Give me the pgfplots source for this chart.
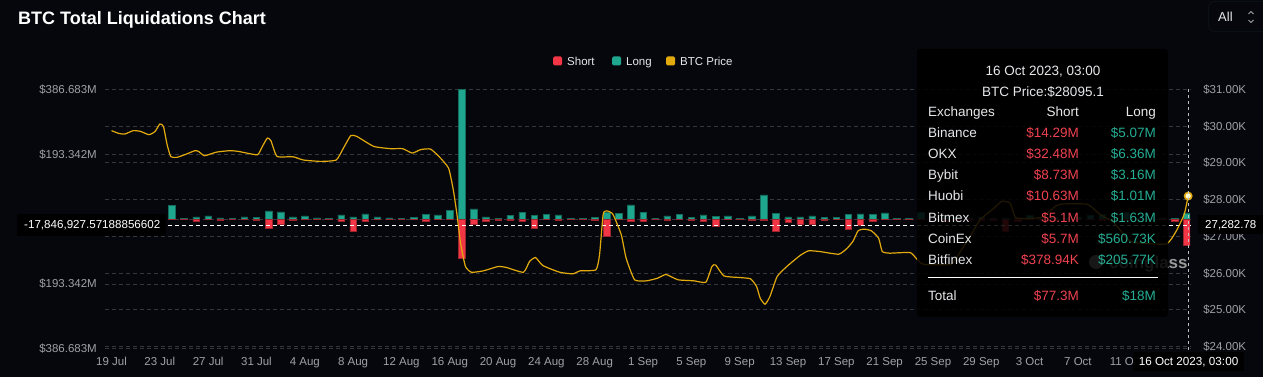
\documentclass[border=0pt]{standalone}
\usepackage{pgfplots}
\pgfplotsset{compat=1.18}
\usepackage{pgfplotstable}
\usepackage{fontspec}
\setmainfont{Liberation Sans}
\definecolor{bg}{HTML}{05070C}
\definecolor{gridc}{HTML}{34373D}
\definecolor{tickc}{HTML}{9EA1A6}
\definecolor{longc}{HTML}{1FA68F}
\definecolor{shortc}{HTML}{F23645}
\definecolor{pricec}{HTML}{E3AA0E}
\definecolor{ttred}{HTML}{F0424F}
\definecolor{ttgreen}{HTML}{25AE93}
\definecolor{txt}{HTML}{E6E7E9}

\pgfplotstableread{
d long short
0 3 -2
1 2 -1
2 4 -2
3 3 -1
4 5 -3
5 41 -2
6 1 -2
7 6 -8
8 9 -1
9 3 -3
10 1 -1
11 6 -1
12 4 -3
13 24 -29
14 21 -16
15 6 -5
16 9 -2
17 3 -1
18 2 -2
19 12 -6
20 6 -38
21 15 -6
22 6 -2
23 3 -1
24 1 -1
25 5 -1
26 14 -8
27 12 -0.5
28 26 -1
29 386.683 -118
30 30 -15
31 6 -6
32 2 -3
33 10 -5
34 20 -6
35 10 -28
36 14 -2
37 12 -5
38 1 -1
39 1 -1
40 5 -4
41 20 -51
42 17 -2
43 42 -6
44 20 -8
45 2 -2
46 9 -3
47 14 -1
48 5 -3
49 12 -8
50 7 -23
51 9 -2
52 1 -1
53 9 -3
54 72 -5
55 16 -38
56 6 -9
57 6 -15
58 9 -15
59 5 -3
60 5 -1
61 13 -32
62 15 -18
63 14 -6
64 18 -1
65 1 -2
66 1 -1
67 20 -2
68 3 -2
69 4 -6
70 5 -3
71 3 -5
72 4 -4
73 2 -3
74 3 -36
75 2 -8
76 12 -2
77 3 -2
78 5 -3
79 2 -1
80 4 -2
81 12 -2
82 13 -3
83 3 -2
84 20 -3
85 3 -2
86 2 -1
87 3 -2
88 1 -8
89 18 -77.3
}\liqtable

\pgfplotstableread{
d p
0.0 29875
0.6 29800
1.1 29782
1.8 29875
2.4 29855
3.1 29765
3.6 29850
4.0 30055
4.3 29990
4.6 29500
4.9 29174
5.4 29147
6.2 29237
6.9 29330
7.2 29310
7.7 29193
8.7 29291
9.8 29330
10.5 29310
11.2 29264
12.1 29220
12.5 29450
12.9 29673
13.2 29600
13.7 29174
15.0 29166
15.9 29075
17.3 29038
18.6 29075
19.2 29400
19.8 29738
20.3 29719
21.7 29447
23.1 29384
24.1 29384
24.9 29264
25.6 29360
26.4 29374
27.1 29174
27.9 28855
28.3 28250
28.6 27585
28.9 26800
29.3 26177
29.8 26021
30.8 26060
32.0 26177
32.7 26150
34.1 26021
34.6 26313
35.1 26422
35.7 26204
37.1 26021
38.2 25978
38.8 26060
40.1 26087
40.4 26500
40.7 27600
41.0 27690
41.5 27602
42.2 27040
42.6 26403
43.3 25815
44.3 25788
45.2 25859
45.9 25960
46.9 25815
48.2 25788
49.2 25750
49.7 26177
50.0 26222
50.7 25920
52.0 25877
52.9 25842
53.4 25632
53.7 25313
54.1 25150
54.5 25359
55.1 25904
55.9 26177
57.0 26477
57.7 26604
58.6 26586
60.2 26512
60.9 26676
61.4 26876
61.8 27149
62.3 27194
62.9 27149
63.5 26949
63.8 26586
64.4 26540
66.1 26558
66.6 26403
67.2 26240
69.5 26240
70.3 26600
71.1 27000
71.9 27450
73.0 27750
73.7 27950
74.4 27900
74.8 27520
75.5 27480
77.0 27520
78.2 27830
78.8 27880
80.8 27870
81.8 27600
82.9 27390
84.1 26930
84.6 26830
87.3 26790
88.1 27120
88.8 27600
89.125 28095.1
}\pricetable

\pgfplotsset{
  baseax/.style={
    at={(105pt,-348.7pt)}, anchor=south west,
    scale only axis, width=1085pt, height=259.4pt,
    xmin=-0.538, xmax=89.28,
    scaled y ticks=false, scaled x ticks=false,
    axis line style={draw=none},
    major tick length=0pt, tick style={draw=none},
    major grid style={gridc, dash pattern=on 4pt off 3pt, line width=0.7pt},
    ticklabel style={font=\fontsize{11.5}{13}\selectfont, text=tickc, inner sep=0pt},
  }
}
\newcommand\fs[1]{\fontsize{#1}{#1}\selectfont}

\begin{document}
\begin{tikzpicture}
\path[use as bounding box] (0pt,0pt) rectangle (1263pt,-377pt);
\begin{scope}[x=1pt,y=-1pt]
  \fill[bg] (0,0) rectangle (1263,377);
  \node[anchor=base west, inner sep=0pt, text=white, font=\fs{18}\bfseries] at (18,25) {BTC Total Liquidations Chart};
  % All selector
  \draw[rounded corners=6pt, color=gridc!120, line width=1pt] (1208.5,1.5) rectangle (1275,31.5);
  \node[anchor=base west, inner sep=0pt, text=txt, font=\fs{13}] at (1218,21.7) {All};
  \draw[tickc, line width=0.9pt] (1248.5,14) -- (1251,11.5) -- (1253.5,14);
  \draw[tickc, line width=0.9pt] (1248.5,20) -- (1251,22.5) -- (1253.5,20);
  % legend
  \fill[shortc, rounded corners=1.5pt] (553,56.5) rectangle (562,65.5);
  \node[anchor=base west, inner sep=0pt, text=txt, font=\fs{11.5}] at (567,65.1) {Short};
  \fill[longc, rounded corners=1.5pt] (612,56.5) rectangle (621,65.5);
  \node[anchor=base west, inner sep=0pt, text=txt, font=\fs{11.5}] at (626,65.1) {Long};
  \fill[pricec, rounded corners=1.5pt] (666,56.5) rectangle (675,65.5);
  \node[anchor=base west, inner sep=0pt, text=txt, font=\fs{11.5}] at (680,65.1) {BTC Price};
\end{scope}

% price axis: grid and labels
\begin{axis}[baseax, ymin=23940, ymax=31000,
  xtick=\empty, ymajorgrids,
  ytick={24000,25000,26000,27000,28000,29000,30000,31000},
  yticklabels={\$24.00K,\$25.00K,\$26.00K,\$27.00K,\$28.00K,\$29.00K,\$30.00K,\$31.00K},
  yticklabel pos=right,
  yticklabel style={anchor=base west, xshift=13pt, yshift=-4.1pt}]
  \addplot[draw=none] coordinates {(0,28000)};
\end{axis}

% liquidation bars
\begin{axis}[baseax, ymin=-386.683, ymax=386.683, ymajorgrids,
  ytick={-386.683,-193.342,0,193.342,386.683},
  yticklabels={\$386.683M,\$193.342M,{},\$193.342M,\$386.683M},
  yticklabel style={anchor=base east, xshift=-8pt, yshift=-4.1pt},
  xtick={0,4,...,84},
  xticklabels={19 Jul,23 Jul,27 Jul,31 Jul,4 Aug,8 Aug,12 Aug,16 Aug,20 Aug,24 Aug,28 Aug,1 Sep,5 Sep,9 Sep,13 Sep,17 Sep,21 Sep,25 Sep,29 Sep,3 Oct,7 Oct,11 Oct},
  xticklabel style={anchor=base, yshift=-16.3pt}]
  \addplot[ybar, bar width=6.5pt, bar shift=0pt, fill=longc, draw=longc!65!black, line width=0.5pt] table[x=d, y=long] {\liqtable};
  \addplot[ybar, bar width=6.5pt, bar shift=0pt, fill=shortc, draw=shortc!65!black, line width=0.5pt] table[x=d, y=short] {\liqtable};
\end{axis}

% price line
\begin{axis}[baseax, ymin=23940, ymax=31000, xtick=\empty, ytick=\empty, clip=false]
  \addplot[white, dash pattern=on 4pt off 3pt, line width=1pt] coordinates {(-0.538,27282.78) (89.28,27282.78)};
  \addplot[pricec, line width=1.2pt, smooth, tension=0.3] table[x=d, y=p] {\pricetable};
  \addplot[only marks, mark=*, mark size=3.6pt, mark options={fill=white!85!yellow, draw=pricec, line width=1.6pt}] coordinates {(89.125,28095.1)};
\end{axis}

\begin{scope}[x=1pt,y=-1pt]
  % vertical crosshair
  \draw[white!75!black, dash pattern=on 3pt off 3pt, line width=0.8pt] (1188,89.3) -- (1188,352);
  % watermark
  \fill[gray!70] (1096,262) circle (7);
  \node[anchor=base west, inner sep=0pt, text=gray!80, font=\fs{17}\bfseries] at (1109,268) {coinglass};
  % tooltip
  \fill[black, opacity=0.86, rounded corners=3pt] (917,49) rectangle (1168,317);
  \node[anchor=base, inner sep=0pt, text=txt, font=\fs{13.5}] at (1043,75.5) {16 Oct 2023, 03:00};
  \node[anchor=base, inner sep=0pt, text=txt, font=\fs{13.5}] at (1043,96.5) {BTC Price:\$28095.1};
  \foreach \y/\n/\s/\l/\c in {116.5/Exchanges/Short/Long/0,
      137.6/Binance/\$14.29M/\$5.07M/1,
      158.7/OKX/\$32.48M/\$6.36M/1,
      179.8/Bybit/\$8.73M/\$3.16M/1,
      200.9/Huobi/\$10.63M/\$1.01M/1,
      222/Bitmex/\$5.1M/\$1.63M/1,
      243.1/CoinEx/\$5.7M/\$560.73K/1,
      264.2/Bitfinex/\$378.94K/\$205.77K/1,
      300.8/Total/\$77.3M/\$18M/1}{
    \ifnum\c=1
      \node[anchor=base west, inner sep=0pt, text=txt, font=\fs{13.5}] at (928,\y) {\n};
      \node[anchor=base east, inner sep=0pt, text=ttred, font=\fs{13.5}] at (1079,\y) {\s};
      \node[anchor=base east, inner sep=0pt, text=ttgreen, font=\fs{13.5}] at (1156,\y) {\l};
    \else
      \node[anchor=base west, inner sep=0pt, text=txt, font=\fs{13.5}] at (928,\y) {\n};
      \node[anchor=base east, inner sep=0pt, text=txt, font=\fs{13.5}] at (1079,\y) {\s};
      \node[anchor=base east, inner sep=0pt, text=txt, font=\fs{13.5}] at (1156,\y) {\l};
    \fi
  }
  \draw[white, line width=1.2pt] (928,277.3) -- (1158,277.3);
  % crosshair labels
  \fill[black] (17,213.5) rectangle (166,235.5);
  \node[anchor=base west, inner sep=0pt, text=white, font=\fs{11.6}] at (24,228.7) {-17,846,927.57188856602};
  \fill[black] (1198,215) rectangle (1263,234);
  \node[anchor=base west, inner sep=0pt, text=white, font=\fs{11.5}] at (1205,228.8) {27,282.78};
  \fill[black] (1133,352) rectangle (1244,371);
  \node[anchor=base, inner sep=0pt, text=white, font=\fs{11.7}] at (1188.5,365.2) {16 Oct 2023, 03:00};
\end{scope}
\end{tikzpicture}
\end{document}
